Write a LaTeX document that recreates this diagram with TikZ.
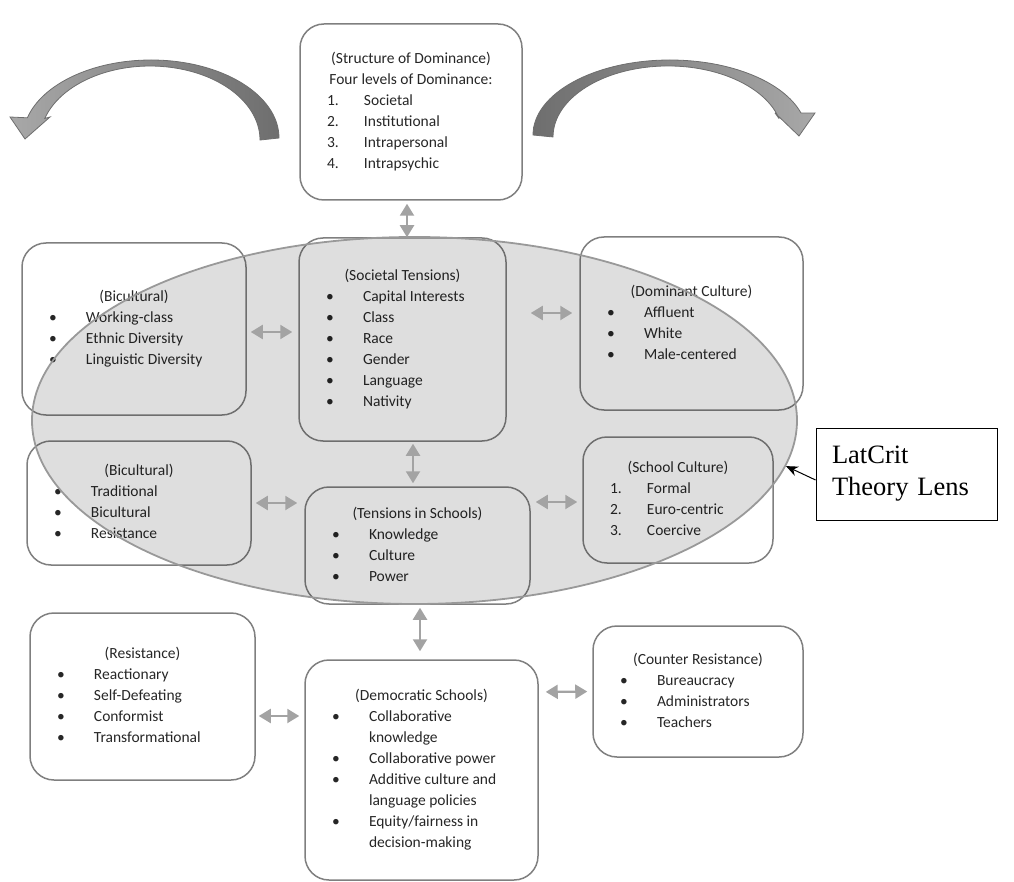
\documentclass[tikz,border=0pt]{standalone}
\usepackage{fontspec}
\setmainfont{Carlito}
\newfontfamily\lensfont{Liberation Serif}
\usepackage{array}
\usetikzlibrary{shapes.geometric,arrows.meta}
\definecolor{boxgray}{HTML}{7F7F7F}
\definecolor{linkgray}{HTML}{A3A3A3}
\definecolor{arcdark}{HTML}{6E6E6E}
\definecolor{arclight}{HTML}{A8A8A8}
\definecolor{lensgray}{HTML}{999999}
\newcommand{\boxitems}[3]{\begin{tabular}{@{}p{37pt}@{}p{#1}@{}}\multicolumn{2}{@{}c@{}}{\makebox[0pt]{#2}}\\#3\end{tabular}}

\begin{document}
\begin{tikzpicture}[x=1pt,y=-1pt,
	box/.style={draw=boxgray, line width=1.5pt, rounded corners=24pt, inner sep=0pt, text=black!85, font=\fontsize{15.5}{21}\selectfont},
	twoway/.style={{Triangle[length=12pt,width=14pt]}-{Triangle[length=12pt,width=14pt]}, draw=linkgray, line width=2.2pt},
	arcarrow/.style={draw=arcdark, line width=0.8pt}]
	\useasboundingbox (0,0) rectangle (1014,882);
	% curved arrows on top
	\draw[arcarrow, left color=arclight, right color=arcdark] (279,138) arc[start angle=0, end angle=-165, x radius=128, y radius=78] -- (10,117) -- (25,139) -- (50,117) -- (44.8,118.4) arc[start angle=-163, end angle=0, x radius=110, y radius=74] -- cycle;
	\draw[arcarrow, left color=arcdark, right color=arclight] (533,135) arc[start angle=180, end angle=343, x radius=137, y radius=75] -- (815,113) -- (799,136) -- (775,113) -- (779.1,118.6) arc[start angle=345, end angle=180, x radius=115, y radius=71] -- cycle;
	% boxes
	\node (top) at (411,112) [box, minimum width=222pt, minimum height=176pt] {\boxitems{131pt}{(Structure of Dominance)}{\multicolumn{2}{@{}c@{}}{\makebox[0pt]{Four levels of Dominance:}}\\
		1. & Societal\\ 2. & Institutional\\ 3. & Intrapersonal\\ 4. & Intrapsychic}};
	\node (bic1) at (134,329) [box, minimum width=224pt, minimum height=172pt] {\boxitems{133pt}{(Bicultural)}{\textbullet & Working-class\\ \textbullet & Ethnic Diversity\\ \textbullet & Linguistic Diversity}};
	\node (soc) at (402.5,339.5) [box, minimum width=207pt, minimum height=203pt] {\boxitems{116pt}{(Societal Tensions)}{\textbullet & Capital Interests\\ \textbullet & Class\\ \textbullet & Race\\ \textbullet & Gender\\ \textbullet & Language\\ \textbullet & Nativity}};
	\node (dom) at (691.5,323.5) [box, minimum width=223pt, minimum height=173pt] {\boxitems{132pt}{(Dominant Culture)}{\textbullet & Affluent\\ \textbullet & White\\ \textbullet & Male-centered}};
	\node (bic2) at (139,503) [box, minimum width=224pt, minimum height=124pt] {\boxitems{133pt}{(Bicultural)}{\textbullet & Traditional\\ \textbullet & Bicultural\\ \textbullet & Resistance}};
	\node (tens) at (417.5,545.5) [box, minimum width=225pt, minimum height=117pt] {\boxitems{134pt}{(Tensions in Schools)}{\textbullet & Knowledge\\ \textbullet & Culture\\ \textbullet & Power}};
	\node (school) at (678,500) [box, minimum width=190pt, minimum height=126pt] {\boxitems{99pt}{(School Culture)}{1. & Formal\\ 2. & Euro-centric\\ 3. & Coercive}};
	\node (res) at (142.5,696.5) [box, minimum width=225pt, minimum height=167pt] {\boxitems{134pt}{(Resistance)}{\textbullet & Reactionary\\ \textbullet & Self-Defeating\\ \textbullet & Conformist\\ \textbullet & Transformational}};
	\node (dem) at (421.5,770) [box, minimum width=233pt, minimum height=220pt] {\boxitems{142pt}{(Democratic Schools)}{\textbullet & Collaborative\\ & knowledge\\ \textbullet & Collaborative power\\ \textbullet & Additive culture and\\ & language policies\\ \textbullet & Equity/fairness in\\ & decision-making}};
	\node (counter) at (698,691.5) [box, minimum width=210pt, minimum height=131pt] {\boxitems{119pt}{(Counter Resistance)}{\textbullet & Bureaucracy\\ \textbullet & Administrators\\ \textbullet & Teachers}};
	% the lens
	\node (lensell) at (414.5,420.5) [ellipse, draw=lensgray, line width=1.8pt, fill=black, fill opacity=0.13, minimum width=765pt, minimum height=367pt, inner sep=0pt] {};
	\node (lens) at (906.5,474) [draw=black, line width=0.9pt, font=\lensfont\fontsize{26.5}{32}\selectfont, text width=149pt, inner xsep=16pt, align=left, minimum height=92pt] {LatCrit\\Theory Lens};
	\draw[-{Stealth[length=12pt,width=10pt]}, line width=1pt] ([yshift=-6pt]lens.west) -- (lensell.-7.5);
	% links
	\draw[twoway, shorten <=3pt] ([xshift=-4pt]top.south) -- ([xshift=4.5pt]soc.north);
	\draw[twoway, shorten <=4pt, shorten >=6pt] ([yshift=-3pt]bic1.east) -- ([yshift=7.5pt]soc.west);
	\draw[twoway, shorten <=24pt, shorten >=7pt] ([yshift=26.5pt]soc.east) -- ([yshift=10.5pt]dom.west);
	\draw[twoway, shorten <=2pt, shorten >=3pt] ([xshift=10.5pt]soc.south) -- ([xshift=-4.5pt]tens.north);
	\draw[twoway, shorten <=4pt, shorten >=7pt] (bic2.east) -- ([yshift=42.5pt]tens.west);
	\draw[twoway, shorten <=5pt, shorten >=5pt] ([yshift=43.5pt]tens.east) -- ([yshift=-2pt]school.west);
	\draw[twoway, shorten <=3pt, shorten >=8pt] ([xshift=2.5pt]tens.south) -- ([xshift=-1.5pt]dem.north);
	\draw[twoway, shorten <=3pt, shorten >=5pt] ([yshift=-19.5pt]res.east) -- ([yshift=54pt]dem.west);
	\draw[twoway, shorten <=7pt, shorten >=5pt] ([yshift=78pt]dem.east) -- (counter.west);
\end{tikzpicture}
\end{document}
